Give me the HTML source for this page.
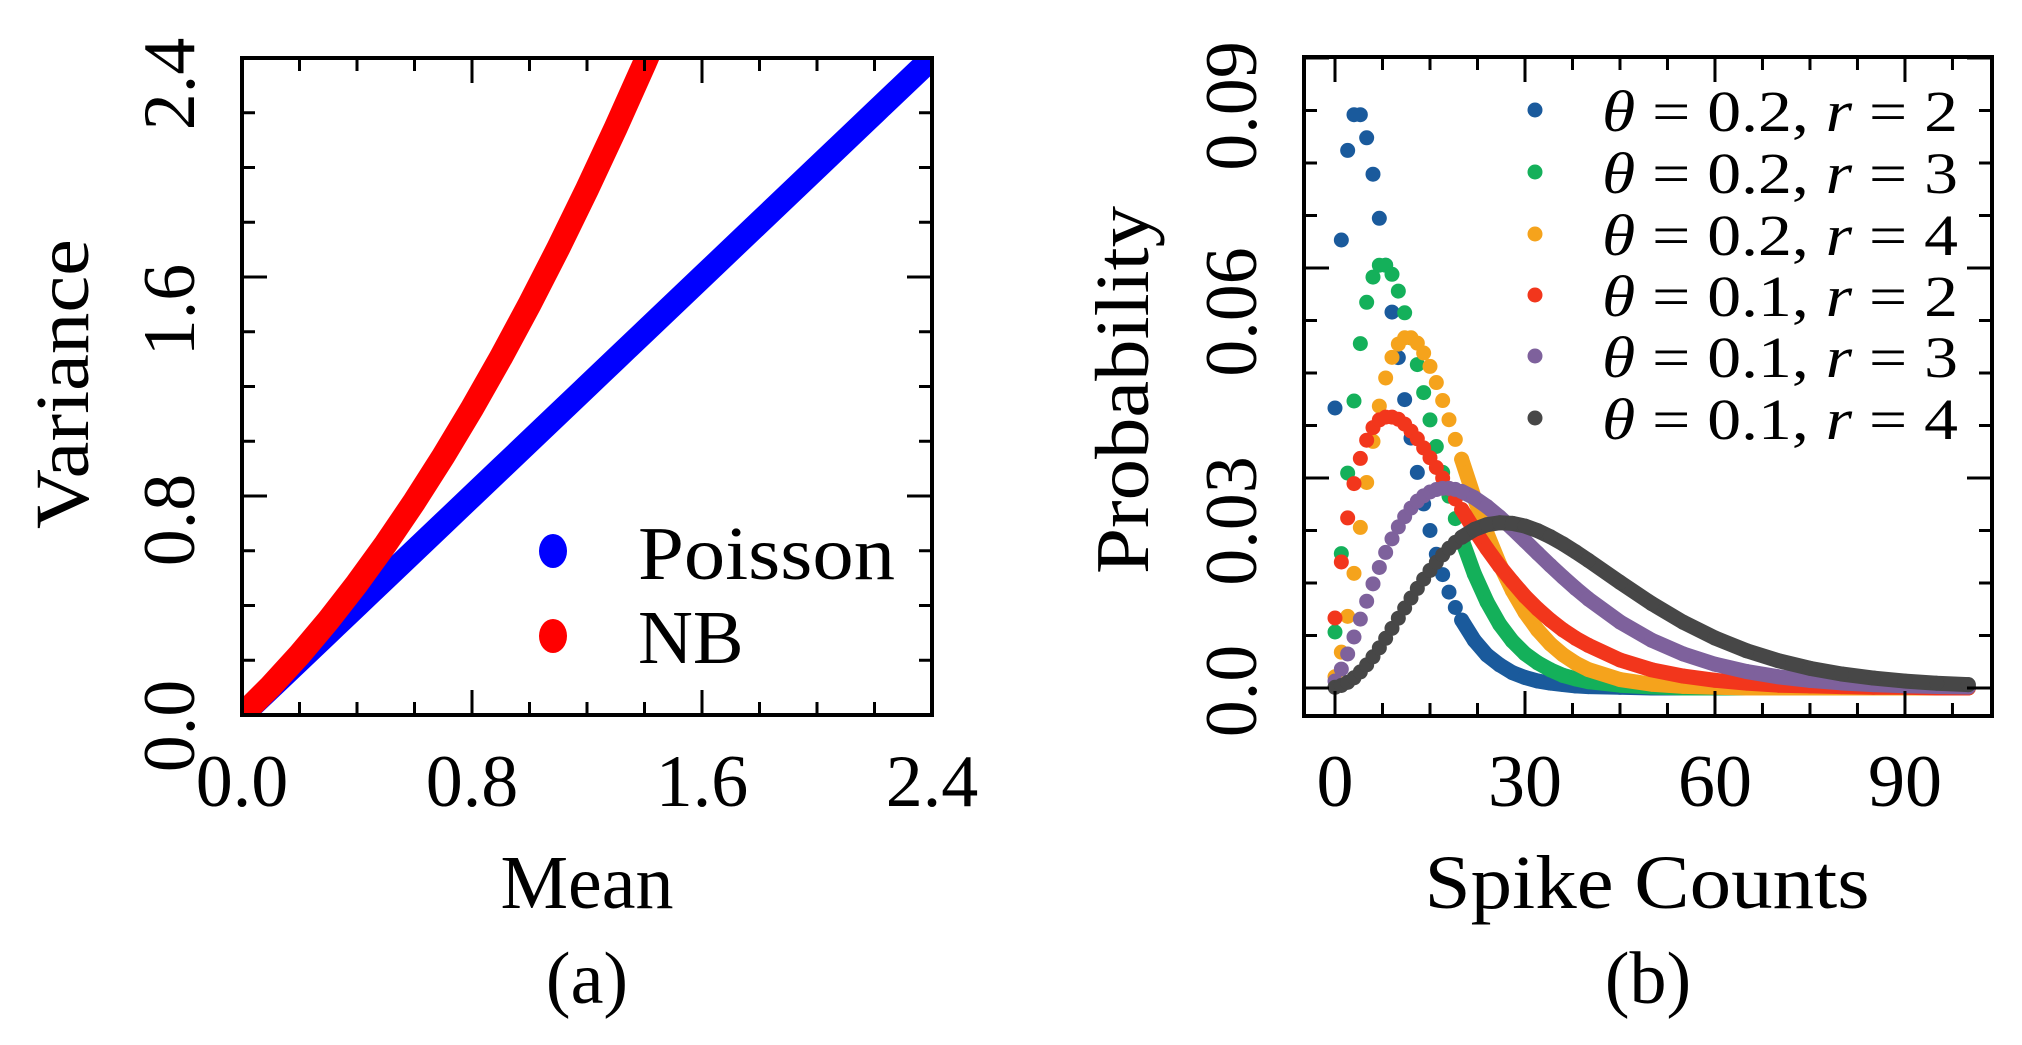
<!DOCTYPE html>
<html><head><meta charset="utf-8"><style>
html,body{margin:0;padding:0;background:#fff;}
svg{display:block;font-family:"Liberation Serif","DejaVu Serif",serif;}
</style></head><body>
<svg id="fig" width="2022" height="1045" viewBox="0 0 2022 1045" xmlns="http://www.w3.org/2000/svg">
<defs>
<clipPath id="clipA"><rect x="242" y="58" width="690" height="657"/></clipPath>
<clipPath id="clipB"><rect x="1304" y="57" width="688" height="659"/></clipPath>
</defs>
<g id="panelA"></g>
<g id="panelB"></g>
</svg>
<script>
// ---------- Panel (a) data ----------
const aMeans = [0,0.1,0.2,0.3,0.4,0.5,0.6,0.7,0.8,0.9,1.0,1.1,1.2,1.3,1.4,1.5,1.6,1.8,2.0,2.2,2.4,2.5];
const aPoissonVar = [0,0.1,0.2,0.3,0.4,0.5,0.6,0.7,0.8,0.9,1.0,1.1,1.2,1.3,1.4,1.5,1.6,1.8,2.0,2.2,2.4,2.5];
const aNBMeans = [0,0.1,0.2,0.3,0.4,0.5,0.6,0.7,0.8,0.9,1.0,1.1,1.2,1.3,1.4,1.5];
const aNBVar = [0,0.105,0.22,0.345,0.48,0.625,0.78,0.945,1.12,1.305,1.5,1.705,1.92,2.145,2.38,2.625];
const aTicks = [0,0.8,1.6,2.4];
const aTickLabels = ["0.0","0.8","1.6","2.4"];

// ---------- Panel (b) data ----------
const bK = [0,1,2,3,4,5,6,7,8,9,10,11,12,13,14,15,16,17,18,19,20,22,24,26,28,30,32,34,36,38,40,45,50,55,60,65,70,75,80,85,90,95,100];
const bS1 = [.04,.064,.0768,.0819,.0819,.0786,.0734,.0671,.0604,.0537,.0472,.0412,.0357,.0308,.0263,.0225,.0191,.0162,.0137,.0115,.0097,.0068,.0047,.0033,.0022,.0015,.0010,.0007,.0005,.0003,.0002,.0001,0,0,0,0,0,0,0,0,0,0,0];
const bS2 = [.008,.0192,.0307,.0410,.0492,.0551,.0587,.0604,.0604,.0591,.0567,.0536,.0500,.0462,.0422,.0383,.0345,.0308,.0274,.0242,.0213,.0163,.0123,.0091,.0067,.0049,.0036,.0026,.0018,.0013,.0009,.0004,.00015,0,0,0,0,0,0,0,0,0,0];
const bS3 = [.0016,.00512,.01024,.01638,.02294,.02936,.03523,.04027,.04429,.04724,.04913,.05003,.05003,.04926,.04785,.04594,.04364,.04107,.03833,.03551,.03267,.02715,.0221,.01767,.01391,.01081,.00829,.0063,.00475,.00355,.00263,.00121,.00054,.00023,.0001,0,0,0,0,0,0,0,0];
const bS4 = [.01,.018,.0243,.0292,.0328,.0354,.0372,.0383,.0387,.0387,.0384,.0377,.0367,.0356,.0343,.0329,.0315,.0300,.0285,.0270,.0255,.0226,.0199,.0174,.0152,.0131,.0113,.0097,.0083,.0071,.0061,.0040,.0026,.0017,.0011,.0007,.0004,.0003,.0002,.0001,.0001,0,0];
const bS5 = [.001,.0027,.00486,.00729,.00984,.0124,.01488,.01722,.01937,.02131,.02301,.02448,.0257,.02669,.02745,.028,.02835,.02852,.02852,.02837,.02808,.02718,.02592,.02442,.02277,.02103,.01926,.01752,.01584,.01423,.01273,.00943,.00683,.00486,.0034,.00235,.0016,.00108,.00072,.00048,.00032,.00021,.00014];
const bS6 = [.0001,.00036,.00081,.00146,.0023,.00331,.00446,.00574,.0071,.00852,.00997,.01142,.01285,.01423,.01556,.0168,.01796,.01901,.01996,.0208,.02153,.02265,.02333,.02361,.02352,.02313,.02247,.02161,.02059,.01945,.01824,.0151,.01207,.00939,.00714,.00532,.0039,.00281,.002,.00142,.00099,.00068,.00048];
const bSeriesNames = ["θ = 0.2, r = 2","θ = 0.2, r = 3","θ = 0.2, r = 4","θ = 0.1, r = 2","θ = 0.1, r = 3","θ = 0.1, r = 4"];
const bThetas = ["0.2","0.2","0.2","0.1","0.1","0.1"];
const bRs = ["2","3","4","2","3","4"];
const bXTicks = [0,30,60,90];
const bXTickLabels = ["0","30","60","90"];
const bYTicks = [0,0.03,0.06,0.09];
const bYTickLabels = ["0.0","0.03","0.06","0.09"];

const NS="http://www.w3.org/2000/svg";
function mk(tag,attrs,parent){const e=document.createElementNS(NS,tag);for(const k in attrs)e.setAttribute(k,attrs[k]);parent.appendChild(e);return e;}

// ---------- Panel (a) ----------
(function(){
const g=document.getElementById('panelA');
const L=242,R=932,T=58,B=715;
const xA=v=>L+(v/2.4)*(R-L);
const yA=v=>B-(v/2.4)*(B-T);
const data=mk('g',{'clip-path':'url(#clipA)'},g);


const pPts=aMeans.map((m,i)=>xA(m)+','+yA(aPoissonVar[i])).join(' ');
const pl=mk('polyline',{points:pPts,fill:'none',stroke:'#0000ff','stroke-width':24,'stroke-linecap':'round','stroke-linejoin':'round'},data);


const nPts=aNBMeans.map((m,i)=>xA(m)+','+yA(aNBVar[i])).join(' ');
const nl=mk('polyline',{points:nPts,fill:'none',stroke:'#ff0000','stroke-width':24,'stroke-linecap':'round','stroke-linejoin':'round'},data);


for(let i=0;i<=12;i++){
  const v=i*0.2; const maj=(i%4===0); const len=maj?25:13;
  const x=xA(v), y=yA(v);
  mk('line',{x1:x,y1:B,x2:x,y2:B-len,stroke:'#000','stroke-width':3},g);
  mk('line',{x1:x,y1:T,x2:x,y2:T+len,stroke:'#000','stroke-width':3},g);
  mk('line',{x1:L,y1:y,x2:L+len,y2:y,stroke:'#000','stroke-width':3},g);
  mk('line',{x1:R,y1:y,x2:R-len,y2:y,stroke:'#000','stroke-width':3},g);
}
const fr=mk('rect',{x:L,y:T,width:R-L,height:B-T,fill:'none',stroke:'#000','stroke-width':4},g);


const yOff=[11,24,33,26];
aTicks.forEach((v,i)=>{
  const t=mk('text',{x:xA(v),y:806,'font-size':74,'text-anchor':'middle'},g);
  t.textContent=aTickLabels[i];
  
  
  const cy=yA(v)+yOff[i];
  const u=mk('text',{x:0,y:0,'font-size':74,'text-anchor':'middle',transform:`translate(194,${cy}) rotate(-90)`},g);
  u.textContent=aTickLabels[i];
  
  
});
const lg=mk('g',{},g);


const d1=mk('ellipse',{cx:553,cy:551,rx:14,ry:17,fill:'#0000ff'},lg);


const t1=mk('text',{x:638,y:579,'font-size':76,textLength:257,lengthAdjust:'spacingAndGlyphs'},lg);
t1.textContent='Poisson';


const d2=mk('ellipse',{cx:553,cy:636,rx:14,ry:17,fill:'#ff0000'},lg);


const t2=mk('text',{x:638,y:663,'font-size':76},lg);
t2.textContent='NB';


const xl=mk('text',{x:587,y:908,'font-size':76,'text-anchor':'middle'},g);
xl.textContent='Mean';


const yl=mk('text',{x:0,y:0,'font-size':76,'text-anchor':'middle',textLength:290,lengthAdjust:'spacingAndGlyphs',transform:'translate(88,384) rotate(-90)'},g);
yl.textContent='Variance';


const cap=mk('text',{x:587,y:1003,'font-size':74,'text-anchor':'middle'},g);
cap.textContent='(a)';


})();

// ---------- Panel (b) ----------
(function(){
const g=document.getElementById('panelB');
const L=1304,R=1992,T=57,B=716;
const x0=1335, pxPerK=6.333;
const y0=688, pxPerP=210/0.03;
const xB=k=>x0+k*pxPerK;
const yB=p=>y0-p*pxPerP;
const colors=['#1a5a9c','#14b05a','#f5a31c','#f2361c','#7e619c','#474747'];
const series=[bS1,bS2,bS3,bS4,bS5,bS6];
const data=mk('g',{'clip-path':'url(#clipB)'},g);


series.forEach((s,si)=>{
  const sg=mk('g',{},data);
  
  
  const pts=[];
  bK.forEach((k,i)=>{ if(k>=20) pts.push(xB(k)+','+yB(s[i])); });
  mk('polyline',{points:pts.join(' '),fill:'none',stroke:colors[si],'stroke-width':15,'stroke-linecap':'round','stroke-linejoin':'round'},sg);
  bK.forEach((k,i)=>{
    const c=mk('circle',{cx:xB(k),cy:yB(s[i]),r:7.5,fill:colors[si]},sg);
    
    
  });
});
for(let i=0;i<=13;i++){
  const k=i*7.5; const x=xB(k); if(x>R) break;
  const len=(i%4===0)?25:13;
  mk('line',{x1:x,y1:B,x2:x,y2:B-len,stroke:'#000','stroke-width':3},g);
  mk('line',{x1:x,y1:T,x2:x,y2:T+len,stroke:'#000','stroke-width':3},g);
}
for(let i=0;i<=12;i++){
  const p=i*0.0075; const y=yB(p);
  const len=(i%4===0)?25:13;
  mk('line',{x1:L,y1:y,x2:L+len,y2:y,stroke:'#000','stroke-width':3},g);
  mk('line',{x1:R,y1:y,x2:R-len,y2:y,stroke:'#000','stroke-width':3},g);
}
const fr=mk('rect',{x:L,y:T,width:R-L,height:B-T,fill:'none',stroke:'#000','stroke-width':4},g);


bXTicks.forEach((v,i)=>{
  const t=mk('text',{x:xB(v),y:806,'font-size':74,'text-anchor':'middle'},g);
  t.textContent=bXTickLabels[i];
  
  
});
const yOff=[3,43,44,48];
bYTicks.forEach((v,i)=>{
  const cy=yB(v)+yOff[i];
  const u=mk('text',{x:0,y:0,'font-size':74,'text-anchor':'middle',transform:`translate(1256,${cy}) rotate(-90)`},g);
  u.textContent=bYTickLabels[i];
  
  
});
const lg=mk('g',{},g);


const rowY=[110,172,234,295,356,418];
bSeriesNames.forEach((n,i)=>{
  const c=mk('circle',{cx:1535,cy:rowY[i],r:7.5,fill:colors[i]},lg);
  
  
  const t=mk('text',{x:1602,y:rowY[i]+21,'font-size':58,textLength:356,lengthAdjust:'spacingAndGlyphs'},lg);
  
  
  const a=mk('tspan',{'font-style':'italic'},t); a.textContent='θ';
  const b=mk('tspan',{},t); b.textContent=' = '+bThetas[i]+', ';
  const c2=mk('tspan',{'font-style':'italic'},t); c2.textContent='r';
  const d=mk('tspan',{},t); d.textContent=' = '+bRs[i];
});
const xl=mk('text',{x:1647,y:908,'font-size':76,'text-anchor':'middle',textLength:445,lengthAdjust:'spacingAndGlyphs'},g);
xl.textContent='Spike Counts';


const yl=mk('text',{x:0,y:0,'font-size':76,'text-anchor':'middle',textLength:368,lengthAdjust:'spacingAndGlyphs',transform:'translate(1148,390) rotate(-90)'},g);
yl.textContent='Probability';


const cap=mk('text',{x:1648,y:1003,'font-size':74,'text-anchor':'middle'},g);
cap.textContent='(b)';


})();
</script>
</body></html>
